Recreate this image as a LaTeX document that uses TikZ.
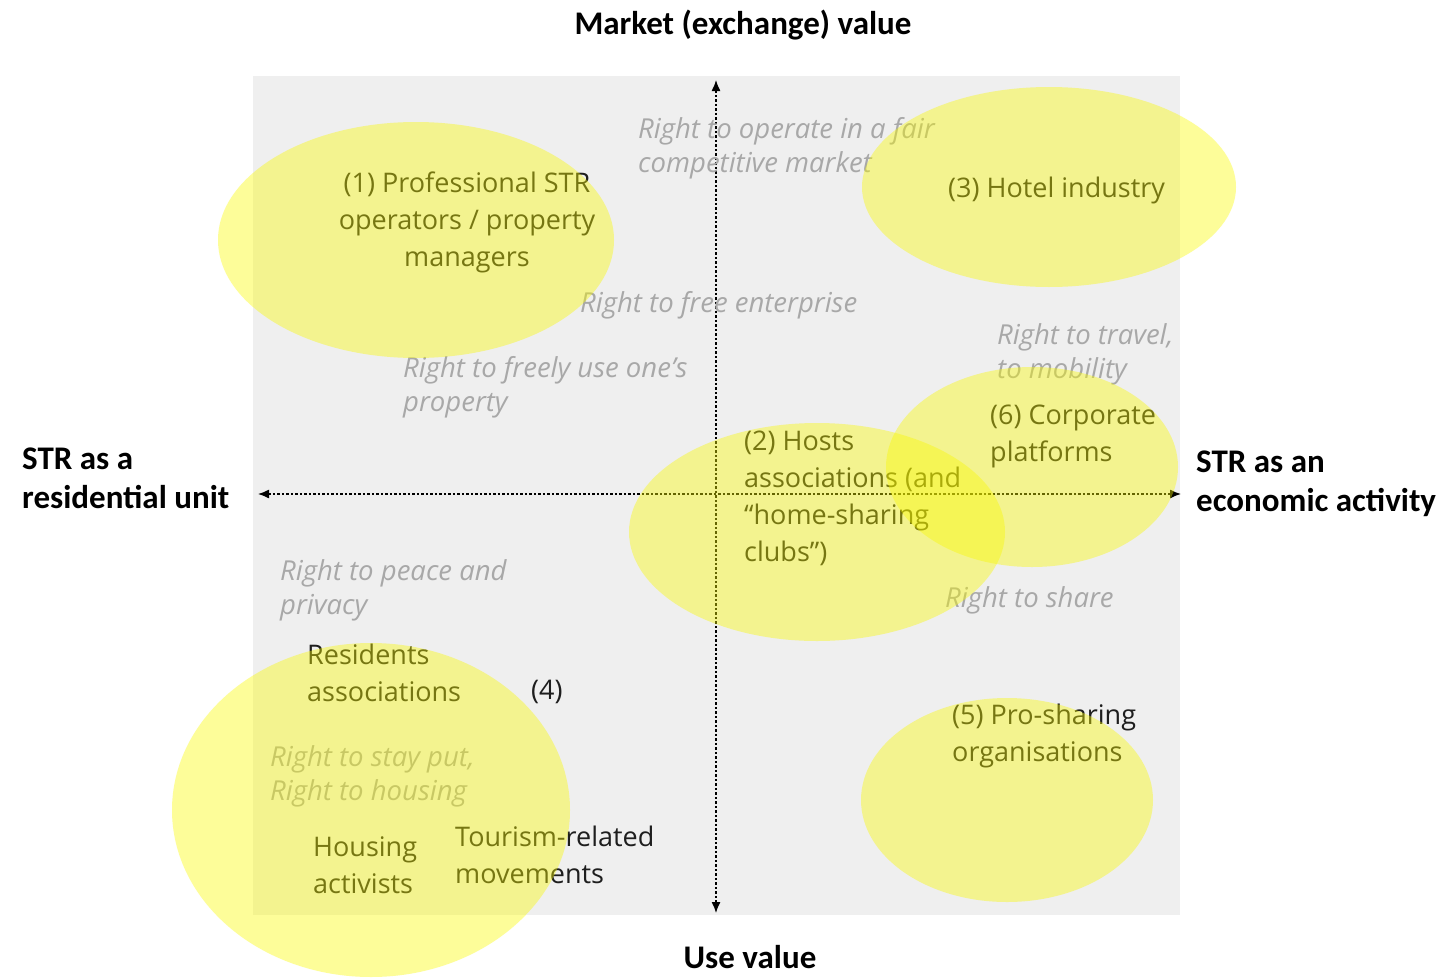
\documentclass[tikz,border=0pt]{standalone}
\usepackage{fontspec}
\setmainfont{Open Sans}
\newfontfamily\axisfont{Carlito}
\usetikzlibrary{arrows.meta}
\definecolor{panel}{RGB}{239,239,239}
\definecolor{blobyellow}{RGB}{250,250,0}
\definecolor{labeltext}{RGB}{30,30,30}
\definecolor{righttext}{RGB}{168,168,168}
\begin{document}
\begin{tikzpicture}[x=1pt,y=-1pt,
  lbl/.style={font=\fontsize{27}{37}\selectfont, text=labeltext, align=left, inner sep=0pt, anchor=west},
  rgt/.style={font=\itshape\fontsize{27.5}{34}\selectfont, text=righttext, align=left, inner sep=0pt, anchor=west},
  axislbl/.style={font=\axisfont\bfseries\fontsize{33}{39}\selectfont, text=black, align=left, inner sep=0pt},
  blob/.style={fill=blobyellow, fill opacity=0.4, draw=none},
  axisline/.style={dash pattern=on 2.5pt off 2pt, line width=1.3pt, {Latex[length=11pt,width=9pt]}-{Latex[length=11pt,width=9pt]}}]
\useasboundingbox (0,0) rectangle (1442,977);
\fill[white] (0,0) rectangle (1442,977);
% shaded panel
\fill[panel] (253,76) rectangle (1180,915);

% axes
\coordinate (ytop) at (716,80);
\coordinate (ybot) at (716,913);
\coordinate (xleft) at (258,494);
\coordinate (xright) at (1181,494);
\draw[axisline] (ytop) -- (ybot);
\draw[axisline] (xleft) -- (xright);

% axis labels
\node[axislbl, anchor=center] (market) at (743,25) {Market (exchange) value};
\node[axislbl, anchor=center] (usev) at (750,957) {Use value};
\node[axislbl, anchor=west] (resunit) at (22,478) {STR as a\\residential unit};
\node[axislbl, anchor=west] (econ) at (1196,484) {STR as an\\economic activity};

% rights
\node[rgt] (fair) at (638,148) {Right to operate in a fair\\competitive market};
\node[rgt] (free) at (580,305) {Right to free enterprise};
\node[rgt] (travel) at (997,354) {Right to travel,\\to mobility};
\node[rgt] (useprop) at (403,387) {Right to freely use one’s\\property};
\node[rgt] (peace) at (280,590) {Right to peace and\\privacy};
\node[rgt] (share) at (945,600) {Right to share};
\node[rgt] (stay) at (270,776) {Right to stay put,\\Right to housing};

% actors
\node[lbl, align=center, anchor=center] (prof) at (467,222) {(1) Professional STR\\operators / property\\managers};
\node[lbl] (hotel) at (948,190) {(3) Hotel industry};
\node[lbl] (corp) at (990,436) {(6) Corporate\\platforms};
\node[lbl] (hosts) at (744,498) {(2) Hosts\\associations (and\\“home-sharing\\clubs”)};
\node[lbl] (resid) at (307,673) {Residents\\associations};
\node[lbl] (four) at (531,692) {(4)};
\node[lbl] (prosh) at (952,736) {(5) Pro-sharing\\organisations};
\node[lbl] (housing) at (313,865) {Housing\\activists};
\node[lbl] (tourism) at (455,855) {Tourism-related\\movements};

% actor groups
\fill[blob] (416,240) ellipse [x radius=198, y radius=118];
\fill[blob] (1049,187) ellipse [x radius=187, y radius=100];
\fill[blob] (1032,467) ellipse [x radius=146, y radius=100];
\fill[blob] (817,532) ellipse [x radius=188, y radius=109];
\fill[blob] (371,810) ellipse [x radius=199, y radius=167];
\fill[blob] (1007,800) ellipse [x radius=146, y radius=102];
\end{tikzpicture}
\end{document}
